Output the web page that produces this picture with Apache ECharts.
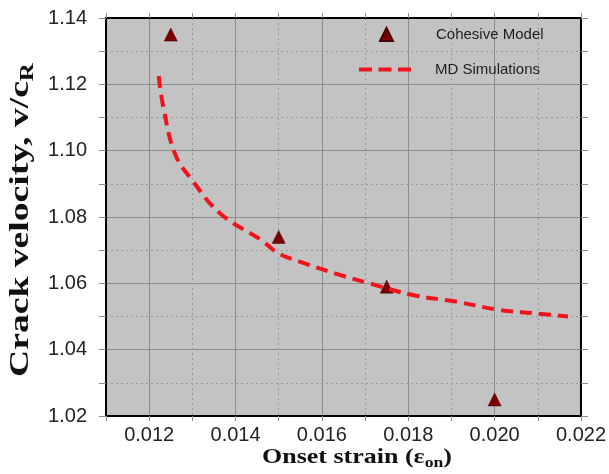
<!DOCTYPE html>
<html>
<head>
<meta charset="utf-8">
<script src="https://cdn.jsdelivr.net/npm/echarts@6/dist/echarts.min.js"></script>
<style>html,body{margin:0;padding:0;background:#fff;}#c{width:609px;height:474px;}</style>
</head>
<body>
<div id="c"></div>
<script>
// Cohesive model (triangles)
const cohesiveStrain = [0.0125, 0.0150, 0.0175, 0.0200];
const cohesiveVelocity = [1.135, 1.074, 1.059, 1.025];
// MD simulations (dashed curve)
const mdStrain = [0.01222, 0.01233, 0.0126, 0.0130, 0.01365, 0.0146, 0.0150, 0.0155, 0.0163, 0.0171, 0.0181, 0.0191, 0.0201, 0.0209, 0.0217];
const mdVelocity = [1.1225, 1.113, 1.099, 1.091, 1.081, 1.073, 1.069, 1.0665, 1.063, 1.060, 1.0565, 1.0545, 1.052, 1.051, 1.050];
// tick labels
const xTickLabels = ['0.012', '0.014', '0.016', '0.018', '0.020', '0.022'];
const yTickLabels = ['1.02', '1.04', '1.06', '1.08', '1.10', '1.12', '1.14'];
// axis titles
const xTitle = ['Onset strain (ε', 'on', ')'];
const yTitle = ['Crack velocity, v/c', 'R'];

const xFmt = v => { const s = v.toFixed(3); return xTickLabels.indexOf(s) >= 0 ? s : ''; };
const yFmt = v => { const s = v.toFixed(2); return yTickLabels.indexOf(s) >= 0 ? s : ''; };

const gridGray = '#8c8c8c';
const tickStyle = { show: true, inside: false, lineStyle: { color: gridGray, width: 1 } };

// measure natural text widths to stretch titles like the reference
const mctx = document.createElement('canvas').getContext('2d');
function tw(font, t) { mctx.font = font; return mctx.measureText(t).width; }
const serif = "'Liberation Serif'";
const xMain = 22, xSub = 15, yMain = 27, ySub = 18;
const xNat = tw('bold ' + xMain + 'px ' + serif, xTitle[0]) + tw('bold ' + xSub + 'px ' + serif, xTitle[1]) + tw('bold ' + xMain + 'px ' + serif, xTitle[2]);
const yNat = tw('bold ' + yMain + 'px ' + serif, yTitle[0]) + tw('bold ' + ySub + 'px ' + serif, yTitle[1]);
const xScale = 190 / xNat;
const yScale = 314 / yNat;

function richStyles(main, sub) {
  return {
    a: { fontFamily: 'Liberation Serif', fontWeight: 'bold', fontSize: main, fill: '#111', verticalAlign: 'bottom' },
    s: { fontFamily: 'Liberation Serif', fontWeight: 'bold', fontSize: sub, fill: '#111', verticalAlign: 'bottom', padding: [0, 0, -3, 0] }
  };
}

const chart = echarts.init(document.getElementById('c'), null, { renderer: 'canvas' });
chart.setOption({
  animation: false,
  backgroundColor: '#ffffff',
  grid: { left: 106, right: 26, top: 18, bottom: 58, show: true, backgroundColor: '#c3c3c3', borderColor: '#000', borderWidth: 2 },
  legend: [
    {
      orient: 'vertical', left: 374, top: 22, itemWidth: 13, itemHeight: 13,
      textStyle: { fontFamily: 'Liberation Sans', fontSize: 15, color: '#1e1e1e', padding: [0, 0, 0, 38] },
      data: [{ name: 'Cohesive Model', icon: 'triangle' }]
    },
    {
      orient: 'vertical', left: 354, top: 57, itemWidth: 52, itemHeight: 4,
      textStyle: { fontFamily: 'Liberation Sans', fontSize: 15, color: '#1e1e1e', padding: [0, 0, 0, 19] },
      data: [{ name: 'MD Simulations', icon: 'path://M0,0H13V4H0Z M19.5,0H32.5V4H19.5Z M39,0H52V4H39Z' }]
    }
  ],
  xAxis: [
    {
      type: 'value', min: 0.011, max: 0.022, interval: 0.001, position: 'bottom',
      axisLine: { show: true, lineStyle: { color: '#000', width: 2 } },
      axisTick: Object.assign({ length: 5 }, tickStyle),
      axisLabel: { formatter: xFmt, fontFamily: 'Liberation Sans', fontSize: 20, color: '#222', margin: 9, showMinLabel: true, showMaxLabel: true },
      splitLine: { show: true, lineStyle: { color: '#999', width: 1, type: [2, 3] } }
    },
    {
      type: 'value', min: 0.011, max: 0.022, interval: 0.001, position: 'top',
      axisLine: { show: true, lineStyle: { color: '#000', width: 2 } },
      axisTick: Object.assign({ length: 5 }, tickStyle),
      axisLabel: { show: false },
      splitLine: { show: true, lineStyle: { color: ['rgba(0,0,0,0)', gridGray], width: 1, type: 'solid' } }
    }
  ],
  yAxis: [
    {
      type: 'value', min: 1.02, max: 1.14, interval: 0.01, position: 'left',
      axisLine: { show: true, lineStyle: { color: '#000', width: 2 } },
      axisTick: Object.assign({ length: 7 }, tickStyle),
      axisLabel: { formatter: yFmt, fontFamily: 'Liberation Sans', fontSize: 20, color: '#222', margin: 19, showMinLabel: true, showMaxLabel: true },
      splitLine: { show: true, lineStyle: { color: '#999', width: 1, type: [2, 3] } }
    },
    {
      type: 'value', min: 1.02, max: 1.14, interval: 0.01, position: 'right',
      axisLine: { show: true, lineStyle: { color: '#000', width: 2 } },
      axisTick: Object.assign({ length: 7 }, tickStyle),
      axisLabel: { show: false },
      splitLine: { show: true, lineStyle: { color: [gridGray, 'rgba(0,0,0,0)'], width: 1, type: 'solid' } }
    }
  ],
  graphic: [
    {
      type: 'text', x: 357, y: 457, scaleX: xScale, scaleY: 1,
      style: { text: '{a|' + xTitle[0] + '}{s|' + xTitle[1] + '}{a|' + xTitle[2] + '}', rich: richStyles(xMain, xSub), align: 'center', verticalAlign: 'middle' }
    },
    {
      type: 'text', x: 21, y: 220, rotation: Math.PI / 2, scaleX: yScale, scaleY: 1,
      style: { text: '{a|' + yTitle[0] + '}{s|' + yTitle[1] + '}', rich: richStyles(yMain, ySub), align: 'center', verticalAlign: 'middle' }
    }
  ],
  series: [
    {
      name: 'Cohesive Model', type: 'scatter', xAxisIndex: 0, yAxisIndex: 0,
      symbol: 'triangle', symbolSize: [13, 13],
      itemStyle: { color: '#7a0000', opacity: 1, borderColor: '#4a0000', borderWidth: 0.5 },
      data: cohesiveStrain.map((x, i) => [x, cohesiveVelocity[i]])
    },
    {
      name: 'MD Simulations', type: 'line', xAxisIndex: 0, yAxisIndex: 0,
      smooth: 0.4, symbol: 'none', showSymbol: false,
      lineStyle: { color: '#f0141e', width: 4, type: [12, 7] },
      itemStyle: { color: '#f0141e' },
      data: mdStrain.map((x, i) => [x, mdVelocity[i]])
    }
  ]
});
</script>
</body>
</html>
